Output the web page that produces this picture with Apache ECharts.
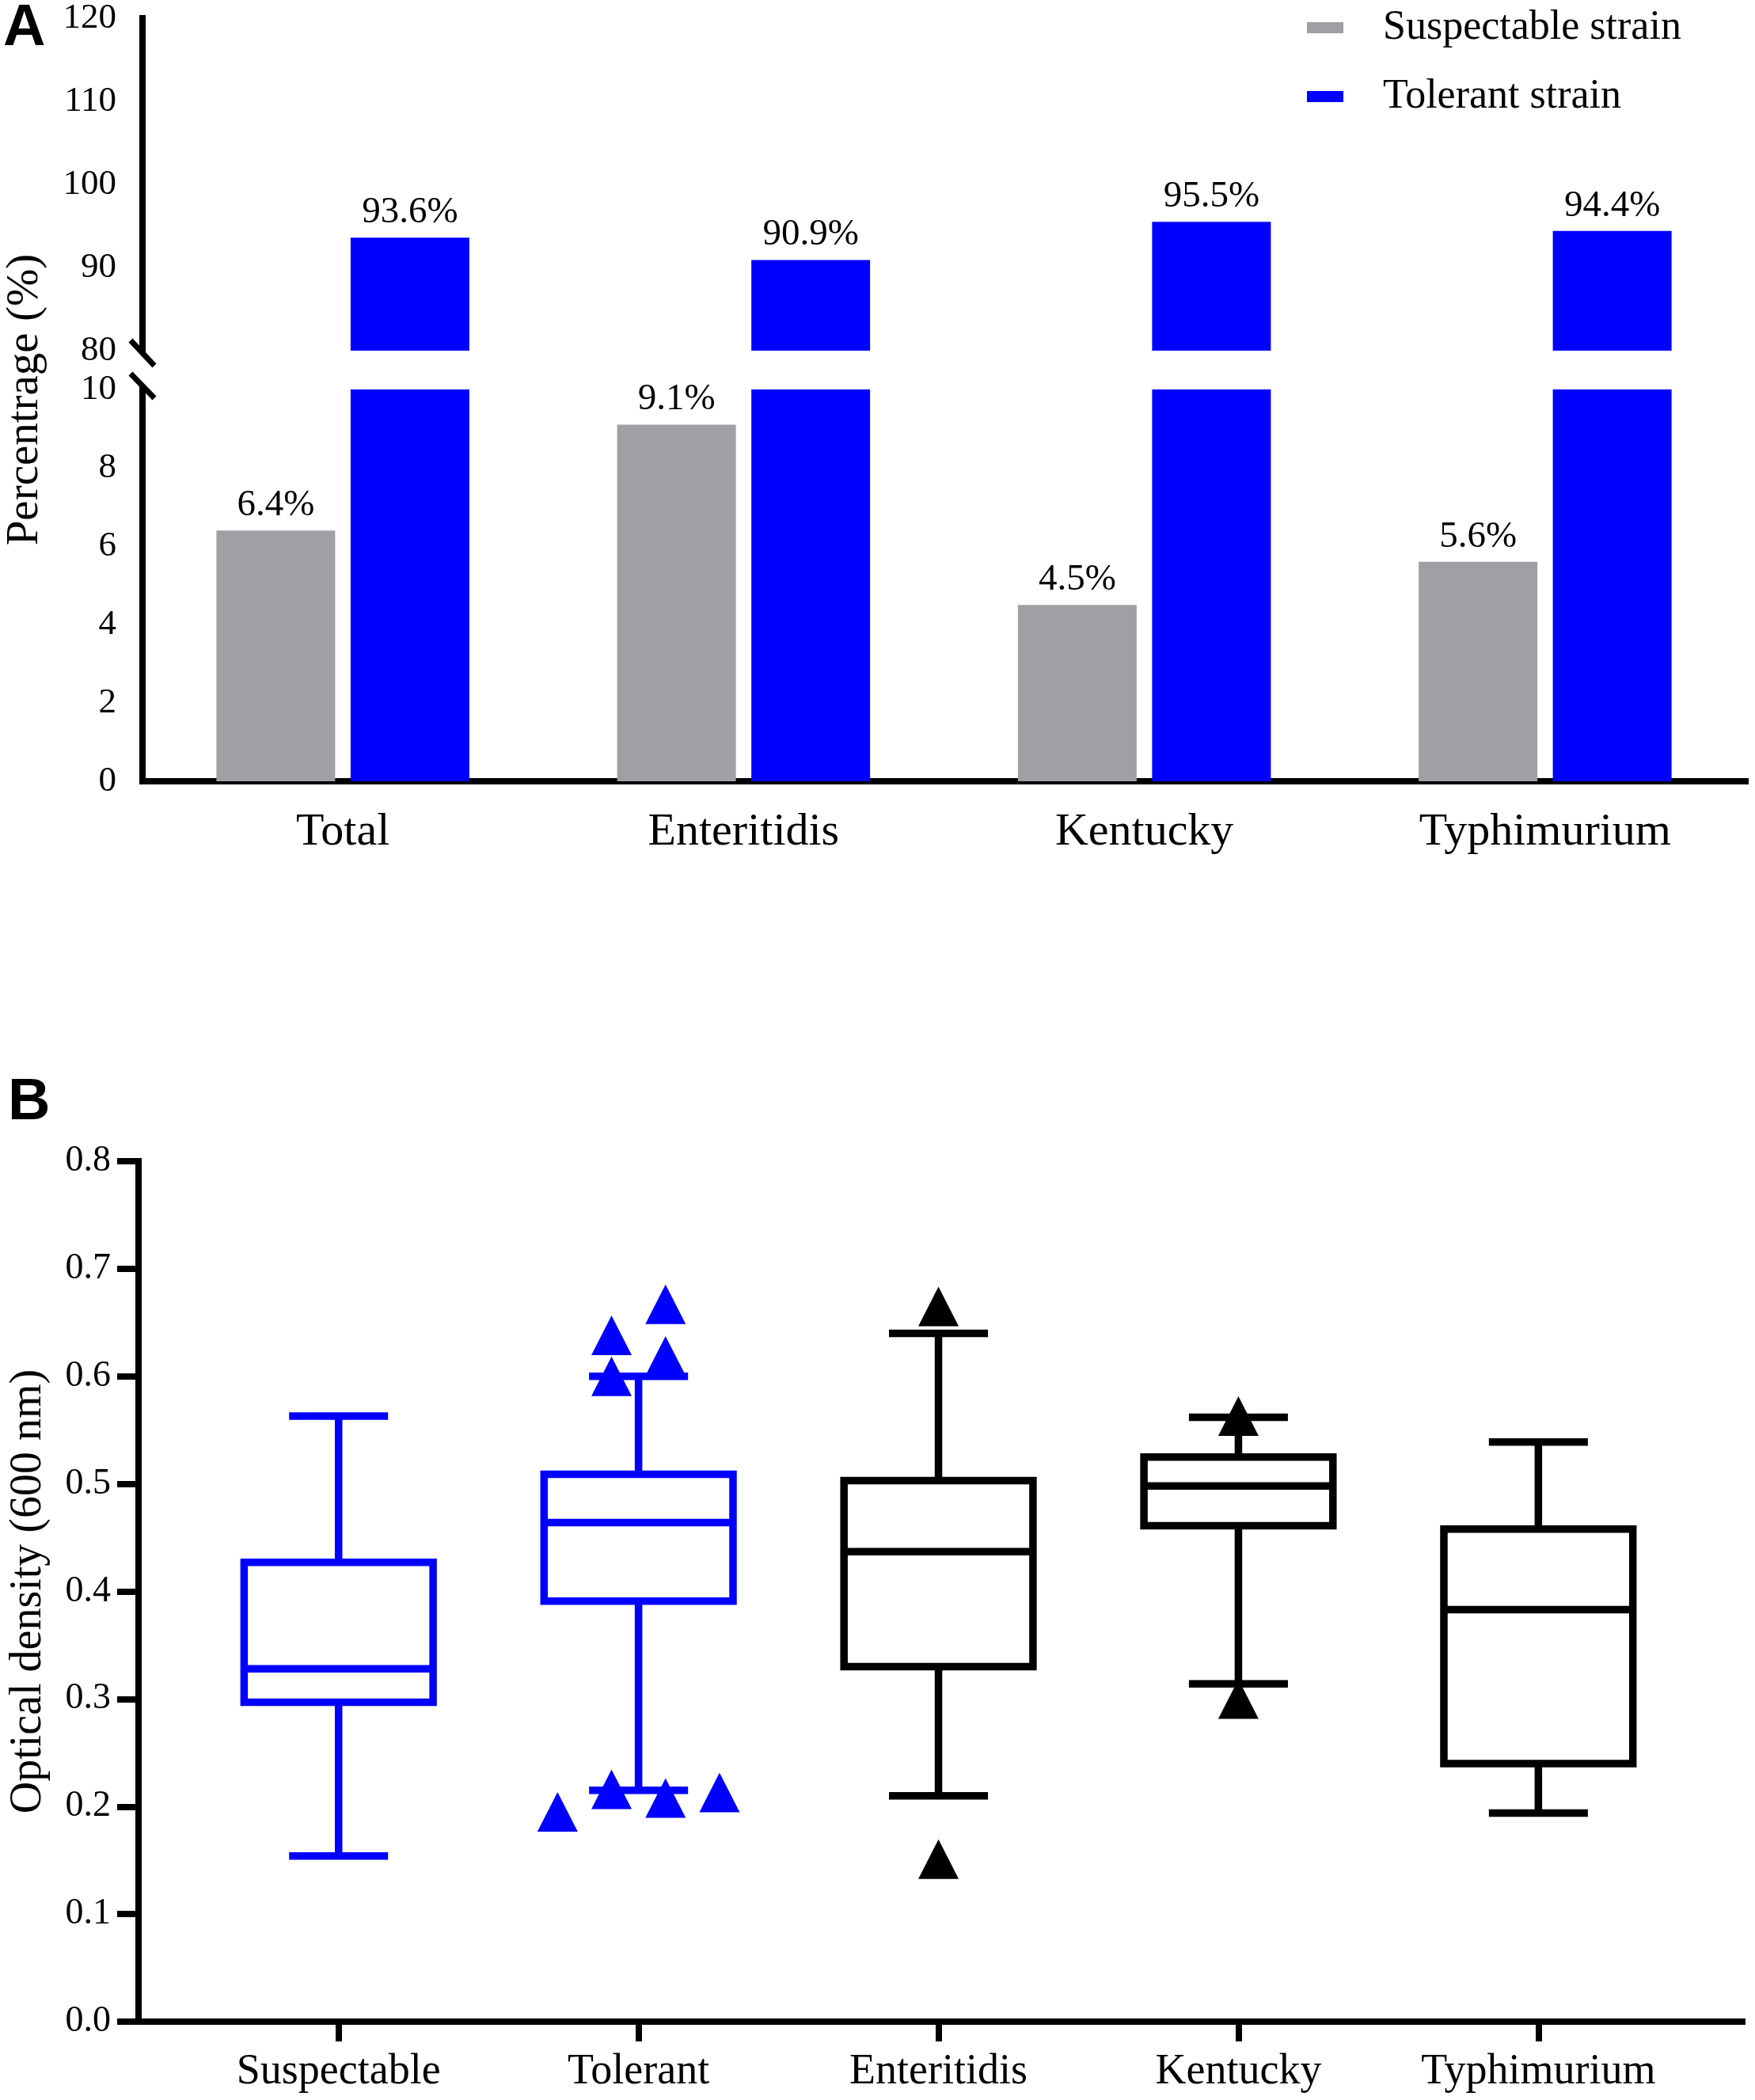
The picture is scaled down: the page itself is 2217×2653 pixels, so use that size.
<!DOCTYPE html>
<html>
<head>
<meta charset="utf-8">
<script src="https://cdn.jsdelivr.net/npm/echarts@6/dist/echarts.min.js"></script>
<style>
  html, body { margin: 0; padding: 0; background: #fff; }
  #chart { width: 2217px; height: 2653px; }
</style>
</head>
<body>
<div id="chart"></div>
<script>
// ---- panel A data ----
const strainGroups = ['Total', 'Enteritidis', 'Kentucky', 'Typhimurium'];
const suspectablePct = [6.4, 9.1, 4.5, 5.6];
const tolerantPct = [93.6, 90.9, 95.5, 94.4];
const upperTicks = [90, 100, 110, 120];
const lowerTicks = [0, 2, 4, 6, 8];

// ---- panel B data ----
const boxGroups = ['Suspectable', 'Tolerant', 'Enteritidis', 'Kentucky', 'Typhimurium'];
// [min, Q1, median, Q3, max]
const boxStats = [
    [0.154, 0.297, 0.328, 0.427, 0.563],
    [0.215, 0.391, 0.464, 0.509, 0.600],
    [0.210, 0.330, 0.437, 0.503, 0.640],
    [0.314, 0.461, 0.498, 0.525, 0.562],
    [0.194, 0.240, 0.383, 0.458, 0.539]
];
// [group, value, column slot]
const outliers = [
    [1, 0.638, -0.5], [1, 0.600, -0.5], [1, 0.667, 0.5], [1, 0.619, 0.5],
    [1, 0.195, -1.5], [1, 0.216, -0.5], [1, 0.208, 0.5], [1, 0.213, 1.5],
    [2, 0.665, 0], [2, 0.151, 0],
    [3, 0.563, 0], [3, 0.300, 0]
];

const boxColors = ['#0000ff', '#0000ff', '#000000', '#000000', '#000000'];
const GRAY = '#a0a0a4';
const BLUE = '#0000ff';
const serif = 'Liberation Serif';

// panel A layout
const aLeft = 180, aRight = 12;
const upTop = 23, upH = 420;
const lowTop = 492, lowH = 495;
// panel B layout
const bLeft = 173, bRight = 16, bTop = 1467, bH = 1087;

const axLine = { show: true, onZero: false, lineStyle: { color: '#000', width: 8, cap: 'square' } };
const tickStyle = { color: '#000', width: 8 };
const tickLabel = (size, margin) => ({ fontFamily: serif, fontSize: size, color: '#000', margin: margin });

const barLabel = {
    show: true, position: 'top', distance: 8, formatter: '{c}%',
    fontFamily: serif, fontSize: 47, color: '#000'
};

const chart = echarts.init(document.getElementById('chart'));

const option = {
    animation: false,
    backgroundColor: '#fff',
    textStyle: { fontFamily: serif },
    legend: {
        data: ['Suspectable strain', 'Tolerant strain'],
        orient: 'vertical',
        left: 1651, top: 9,
        padding: 0,
        icon: 'rect',
        itemWidth: 46, itemHeight: 14, itemGap: 35,
        textStyle: { fontFamily: serif, fontSize: 52, color: '#000', lineHeight: 52, padding: [0, 0, 0, 45] }
    },
    grid: [
        { left: aLeft, right: aRight, top: upTop, height: upH },
        { left: aLeft, right: aRight, top: lowTop, height: lowH },
        { left: bLeft, right: bRight, top: bTop, height: bH }
    ],
    xAxis: [
        { type: 'category', gridIndex: 0, data: strainGroups, show: false },
        {
            type: 'category', gridIndex: 1, data: strainGroups,
            axisLine: axLine,
            axisTick: { alignWithLabel: true, length: 25, lineStyle: tickStyle },
            axisLabel: tickLabel(58, 36)
        },
        {
            type: 'value', gridIndex: 2, min: -0.667, max: 4.68,
            splitLine: { show: false },
            axisLine: axLine,
            axisTick: { customValues: [0, 1, 2, 3, 4], length: 25, lineStyle: tickStyle },
            axisLabel: Object.assign(tickLabel(54, 37), {
                customValues: [0, 1, 2, 3, 4],
                formatter: v => boxGroups[Math.round(v)]
            })
        }
    ],
    yAxis: [
        {
            type: 'value', gridIndex: 0, min: 80, max: 120, interval: 10,
            splitLine: { show: false },
            axisLine: axLine,
            axisTick: { customValues: upperTicks, length: 27, lineStyle: tickStyle },
            axisLabel: tickLabel(45, 33)
        },
        {
            type: 'value', gridIndex: 1, min: 0, max: 10, interval: 2,
            splitLine: { show: false },
            axisLine: axLine,
            axisTick: { customValues: lowerTicks, length: 27, lineStyle: tickStyle },
            axisLabel: tickLabel(45, 33)
        },
        {
            type: 'value', gridIndex: 2, min: 0, max: 0.8, interval: 0.1,
            splitLine: { show: false },
            axisLine: axLine,
            axisTick: { length: 27, lineStyle: tickStyle },
            axisLabel: Object.assign(tickLabel(46, 35), { formatter: v => v.toFixed(1) }),
            name: 'Optical density (600 nm)',
            nameLocation: 'middle', nameGap: 111,
            nameTextStyle: { fontFamily: serif, fontSize: 56, color: '#000' }
        }
    ],
    series: [
        {
            name: 'Suspectable strain', type: 'bar', xAxisIndex: 0, yAxisIndex: 0,
            data: strainGroups.map(() => '-'),
            barWidth: 150, barGap: '13%', itemStyle: { color: GRAY }
        },
        {
            name: 'Tolerant strain', type: 'bar', xAxisIndex: 0, yAxisIndex: 0,
            data: tolerantPct, barWidth: 150, barGap: '13%', clip: true,
            itemStyle: { color: BLUE }, label: barLabel
        },
        {
            name: 'Suspectable strain', type: 'bar', xAxisIndex: 1, yAxisIndex: 1,
            data: suspectablePct, barWidth: 150, barGap: '13%',
            itemStyle: { color: GRAY }, label: barLabel
        },
        {
            name: 'Tolerant strain', type: 'bar', xAxisIndex: 1, yAxisIndex: 1,
            data: tolerantPct, barWidth: 150, barGap: '13%', clip: true,
            itemStyle: { color: BLUE }
        },
        {
            type: 'custom', xAxisIndex: 2, yAxisIndex: 2,
            data: boxStats.map((s, i) => [i].concat(s)),
            encode: { x: 0, y: [1, 2, 3, 4, 5] },
            silent: true,
            renderItem: function (params, api) {
                const x = api.value(0);
                const lo = api.coord([x, api.value(1)]);
                const q1 = api.coord([x, api.value(2)]);
                const md = api.coord([x, api.value(3)]);
                const q3 = api.coord([x, api.value(4)]);
                const hi = api.coord([x, api.value(5)]);
                const unit = api.size([1, 0])[0];
                const half = unit * 0.315;
                const cap = unit * 0.165;
                const cx = lo[0];
                const style = { stroke: boxColors[params.dataIndex], lineWidth: 9.5, fill: 'none' };
                return {
                    type: 'group',
                    children: [
                        { type: 'line', shape: { x1: cx, y1: q3[1], x2: cx, y2: hi[1] }, style: style },
                        { type: 'line', shape: { x1: cx, y1: q1[1], x2: cx, y2: lo[1] }, style: style },
                        { type: 'line', shape: { x1: cx - cap, y1: hi[1], x2: cx + cap, y2: hi[1] }, style: style },
                        { type: 'line', shape: { x1: cx - cap, y1: lo[1], x2: cx + cap, y2: lo[1] }, style: style },
                        { type: 'rect', shape: { x: cx - half, y: q3[1], width: 2 * half, height: q1[1] - q3[1] }, style: style },
                        { type: 'line', shape: { x1: cx - half, y1: md[1], x2: cx + half, y2: md[1] }, style: style }
                    ]
                };
            }
        },
        {
            type: 'scatter', xAxisIndex: 2, yAxisIndex: 2,
            symbol: 'triangle', symbolSize: [51, 50], silent: true, z: 5,
            data: outliers.map(([g, v, slot]) => ({
                value: [g + slot * 0.18, v],
                itemStyle: { color: boxColors[g], opacity: 1 }
            }))
        }
    ],
    graphic: [
        { type: 'text', left: 4, top: 0, style: { text: 'A', font: 'bold 74px "Liberation Sans"', fill: '#000' } },
        { type: 'text', left: 10, top: bTop - 110, style: { text: 'B', font: 'bold 74px "Liberation Sans"', fill: '#000' } },
        {
            type: 'text', x: 32, y: (upTop + lowTop + lowH) / 2, rotation: Math.PI / 2,
            style: { text: 'Percentrage (%)', font: '57px "Liberation Serif"', fill: '#000', align: 'center', verticalAlign: 'middle' }
        },
        // axis break marks
        { type: 'line', shape: { x1: aLeft - 15, y1: upTop + upH - 13, x2: aLeft + 15, y2: upTop + upH + 19 }, style: { stroke: '#000', lineWidth: 7 } },
        { type: 'line', shape: { x1: aLeft - 15, y1: lowTop - 20, x2: aLeft + 15, y2: lowTop + 11 }, style: { stroke: '#000', lineWidth: 7 } }
    ]
};

chart.setOption(option);
</script>
</body>
</html>
